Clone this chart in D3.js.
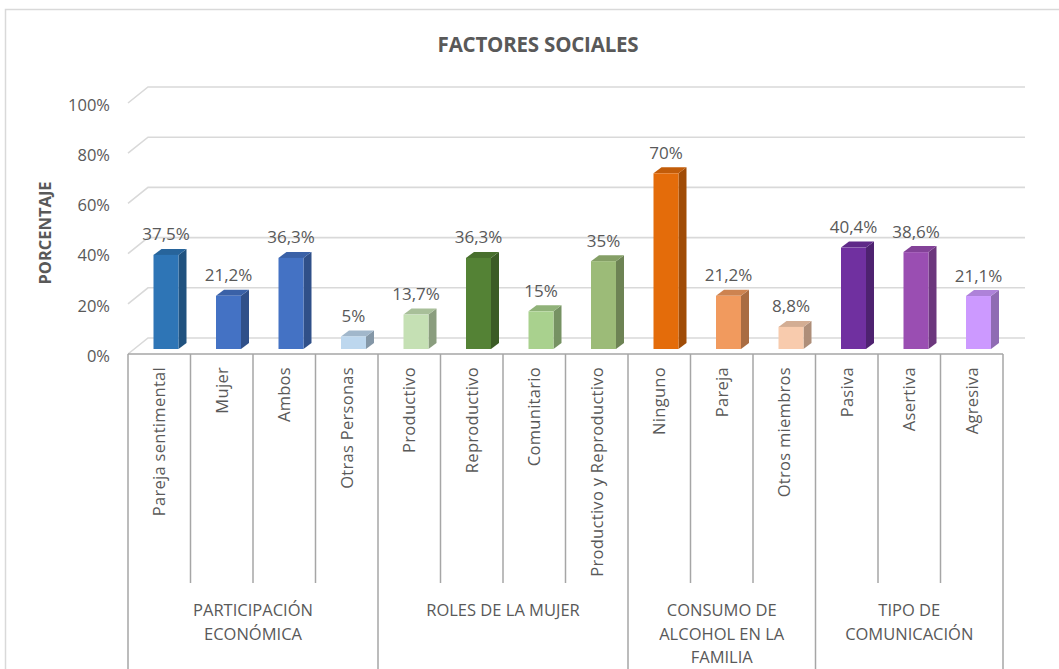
<!DOCTYPE html>
<html>
<head>
<meta charset="utf-8">
<script src="https://cdn.jsdelivr.net/npm/d3@7"></script>
<style>
  html, body { margin: 0; padding: 0; background: #fff; }
  svg { display: block; font-family: "Open Sans", "Lato", sans-serif; }
</style>
</head>
<body>
<svg id="chart" width="1059" height="669"></svg>
<script>
// ---- data ----
const categories = ["Pareja sentimental", "Mujer", "Ambos", "Otras Personas",
  "Productivo", "Reproductivo", "Comunitario", "Productivo y Reproductivo",
  "Ninguno", "Pareja", "Otros miembros",
  "Pasiva", "Asertiva", "Agresiva"];
const values = [37.5, 21.2, 36.3, 5, 13.7, 36.3, 15, 35, 70, 21.2, 8.8, 40.4, 38.6, 21.1];
const valueLabels = ["37,5%", "21,2%", "36,3%", "5%", "13,7%", "36,3%", "15%", "35%",
  "70%", "21,2%", "8,8%", "40,4%", "38,6%", "21,1%"];
const barColors = ["#2E75B6", "#4472C4", "#4472C4", "#BDD7EE",
  "#C5E0B4", "#548235", "#A9D18E", "#9CBB78",
  "#E46C0A", "#F19A5E", "#F8CBAD",
  "#7030A0", "#9A4EB2", "#CC99FF"];
const groupLabels = [["PARTICIPACIÓN", "ECONÓMICA"], ["ROLES DE LA MUJER"],
  ["CONSUMO DE", "ALCOHOL EN LA", "FAMILIA"], ["TIPO DE", "COMUNICACIÓN"]];
const groupSizes = [4, 4, 3, 3];
const yTicks = [0, 20, 40, 60, 80, 100];
const title = "FACTORES SOCIALES";
const yTitle = "PORCENTAJE";

// ---- layout ----
const svg = d3.select("#chart");
const textColor = "#595959";
const left = 128, right = 1003;
const axisY = 354;
const depthX = 20, depthY = 16;
const barDX = 8, barDY = 6;

const x = d3.scaleBand().domain(categories).range([left, right]).padding(0);
const yBack = d3.scaleLinear().domain([0, 100]).range([338, 87]);
const yFront = d3.scaleLinear().domain([0, 100]).range([354, 103]);
const yBar = d3.scaleLinear().domain([0, 100]).range([349, 98]);

// outer border
svg.append("rect").attr("x", 5.5).attr("y", 9.5).attr("width", 1100).attr("height", 700)
  .attr("fill", "none").attr("stroke", "#D9D9D9").attr("stroke-width", 1.5);

// title
svg.append("text").attr("x", 538).attr("y", 52).attr("text-anchor", "middle")
  .attr("font-size", 20.5).attr("font-weight", "bold").attr("fill", textColor)
  .attr("letter-spacing", -0.2)
  .text(title);

// gridlines
const grid = svg.append("g");
yTicks.forEach(t => {
  grid.append("path")
    .attr("d", `M${left},${yFront(t)} L${left + depthX},${yBack(t)} L1025,${yBack(t)}`)
    .attr("fill", "none").attr("stroke", "#D9D9D9").attr("stroke-width", 1.6);
});

// y axis tick labels
const yAxis = svg.append("g").attr("transform", "translate(110,2)")
  .call(d3.axisLeft(yFront).tickValues(yTicks).tickSize(0).tickPadding(0).tickFormat(d => d + "%"));
yAxis.select(".domain").remove();
yAxis.selectAll("text").attr("font-size", 16.5).attr("fill", textColor)
  .attr("font-family", "'Open Sans', sans-serif");

// y axis title
svg.append("text").attr("transform", "translate(51,233) rotate(-90)")
  .attr("text-anchor", "middle").attr("font-size", 16.5).attr("font-weight", "bold")
  .attr("fill", textColor).text(yTitle);

// bars
const barW = 25, barOffset = 25.5;
const bars = svg.append("g").selectAll("g").data(categories).join("g");
bars.each(function (c, i) {
  const g = d3.select(this);
  const x0 = x(c) + barOffset, x1 = x0 + barW;
  const yt = yBar(values[i]), yb = yBar(0);
  const base = d3.color(barColors[i]);
  const side = base.darker(1.0).formatHex();
  const top = base.darker(0.45).formatHex();
  g.append("path").attr("d", `M${x1},${yt} L${x1 + barDX},${yt - barDY} L${x1 + barDX},${yb - barDY} L${x1},${yb} Z`)
    .attr("fill", side);
  g.append("path").attr("d", `M${x0},${yt} L${x0 + barDX},${yt - barDY} L${x1 + barDX},${yt - barDY} L${x1},${yt} Z`)
    .attr("fill", top);
  g.append("rect").attr("x", x0).attr("y", yt).attr("width", barW).attr("height", yb - yt)
    .attr("fill", barColors[i]);
  g.append("text").attr("x", x0 + barW / 2).attr("y", yt - 14.5).attr("text-anchor", "middle")
    .attr("font-size", 17).attr("fill", textColor).text(valueLabels[i]);
});

// category axis box
const axisG = svg.append("g");
const lineColor = "#A6A6A6";
axisG.append("line").attr("x1", left).attr("x2", right).attr("y1", axisY).attr("y2", axisY)
  .attr("stroke", lineColor).attr("stroke-width", 1.5);
const groupStarts = [];
let acc = 0;
groupSizes.forEach(s => { groupStarts.push(acc); acc += s; });
d3.range(categories.length + 1).forEach(k => {
  const xx = k < categories.length ? x(categories[k]) : right;
  const isGroup = k === categories.length || groupStarts.includes(k);
  axisG.append("line").attr("x1", xx).attr("x2", xx).attr("y1", axisY)
    .attr("y2", isGroup ? 669 : 583).attr("stroke", lineColor).attr("stroke-width", 1.5);
});

// category labels
svg.append("g").selectAll("text").data(categories).join("text")
  .attr("transform", d => `translate(${x(d) + x.bandwidth() / 2 + 6},367) rotate(-90)`)
  .attr("text-anchor", "end").attr("font-size", 16.5).attr("fill", textColor)
  .attr("letter-spacing", 0.3)
  .text(d => d);

// group labels
groupLabels.forEach((lines, gi) => {
  const s = groupStarts[gi], e = s + groupSizes[gi];
  const x0 = x(categories[s]);
  const x1 = e < categories.length ? x(categories[e]) : right;
  const cx = (x0 + x1) / 2;
  const t = svg.append("text").attr("text-anchor", "middle").attr("font-size", 16.5)
    .attr("fill", textColor);
  lines.forEach((ln, li) => {
    t.append("tspan").attr("x", cx).attr("y", 616 + li * 23.5).text(ln);
  });
});
</script>
</body>
</html>
